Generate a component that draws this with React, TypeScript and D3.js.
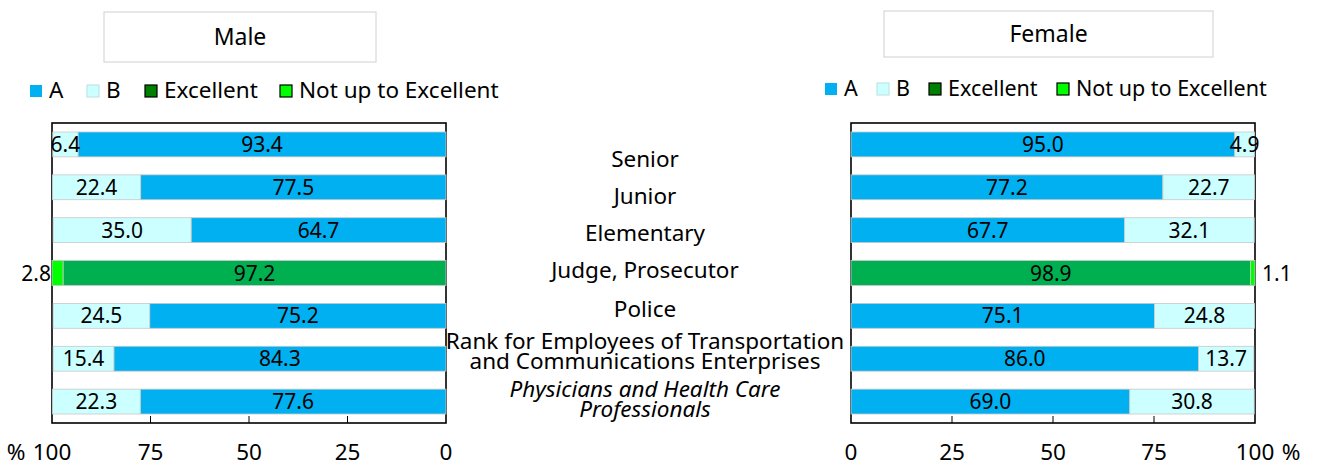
import React from 'react';
import * as d3 from 'd3';

const categories = [
  'Senior',
  'Junior',
  'Elementary',
  'Judge, Prosecutor',
  'Police',
  'Rank for Employees of Transportation|and Communications Enterprises',
  'Physicians and Health Care|Professionals',
];
const italicRows = [false, false, false, false, false, false, true];

// male values
const maleA = [93.4, 77.5, 64.7, 0, 75.2, 84.3, 77.6];
const maleB = [6.4, 22.4, 35.0, 0, 24.5, 15.4, 22.3];
const maleExcellent = [0, 0, 0, 97.2, 0, 0, 0];
const maleNotUp = [0, 0, 0, 2.8, 0, 0, 0];

// female values
const femaleA = [95.0, 77.2, 67.7, 0, 75.1, 86.0, 69.0];
const femaleB = [4.9, 22.7, 32.1, 0, 24.8, 13.7, 30.8];
const femaleExcellent = [0, 0, 0, 98.9, 0, 0, 0];
const femaleNotUp = [0, 0, 0, 1.1, 0, 0, 0];

const ticks = [0, 25, 50, 75, 100];
const keys = ['A', 'Excellent', 'B', 'NotUp'];
const legendLabels = ['A', 'B', 'Excellent', 'Not up to Excellent'];

const barColor: Record<string, string> = {
  A: '#00B0F0',
  B: '#CCFFFF',
  Excellent: '#00B050',
  NotUp: '#00FF00',
};
const legendColor = ['#00B0F0', '#CCFFFF', '#008000', '#00FF00'];
const legendStroke = ['none', '#bfe6e6', '#000', '#000'];

const FONT = '"Noto Sans", "Open Sans", sans-serif';

const W = 1319;
const H = 468;

const y = d3.scaleBand<string>()
  .domain(categories)
  .range([123, 423])
  .paddingInner(0.42)
  .paddingOuter(0.21);

// label centre shifts relative to band centre (layout only)
const labelShift = [15, 9, 3, -3, -6.5, -7.5, -2];

function buildRows(a: number[], b: number[], ex: number[], nu: number[]) {
  return categories.map((c, i) => ({ cat: c, A: a[i], B: b[i], Excellent: ex[i], NotUp: nu[i] }));
}

const Panel = ({ rows, x, left, right, title, titleBox, legendXs, legendY, legendSize, pctX }: any) => {
  const series = d3.stack<any>().keys(keys)(rows);
  const bottom = 423;
  return (
    <g>
      <rect x={titleBox[0]} y={titleBox[1]} width={titleBox[2]} height={titleBox[3]} fill="#fff" stroke="#d0d0d0" />
      <text x={titleBox[0] + titleBox[2] / 2} y={titleBox[1] + titleBox[3] / 2 + 8} textAnchor="middle" fontSize={23}>{title}</text>

      {legendLabels.map((l, i) => (
        <g key={l} transform={`translate(${legendXs[i]},${legendY})`}>
          <rect x={0} y={-12} width={12} height={12} fill={legendColor[i]} stroke={legendStroke[i]} strokeWidth={1.2} />
          <text x={19} y={1} fontSize={legendSize}>{l}</text>
        </g>
      ))}

      <rect x={left} y={123} width={right - left} height={bottom - 123} fill="#fff" stroke="#000" strokeWidth={1.6} />

      {series.map(s => s.filter(d => d[1] - d[0] > 0).map(d => {
        const x0 = x(d[0]);
        const x1 = x(d[1]);
        return (
          <rect key={s.key + d.data.cat} x={Math.min(x0, x1)} y={y(d.data.cat)} width={Math.abs(x1 - x0)}
            height={y.bandwidth()} fill={barColor[s.key]} stroke="#c8c8c8" strokeWidth={0.8} />
        );
      }))}

      {series.map(s => s.filter(d => d[1] - d[0] > 0).map(d => {
        const v = d[1] - d[0];
        const cy = (y(d.data.cat) as number) + y.bandwidth() / 2 + 7.5;
        if (s.key === 'NotUp') {
          const xe = x(d[1]);
          const outsideLeft = x(100) < x(0);
          return (
            <text key={'t' + s.key + d.data.cat} x={outsideLeft ? xe - 1 : xe + 7} y={cy}
              textAnchor={outsideLeft ? 'end' : 'start'} fontSize={21}>{v.toFixed(1)}</text>
          );
        }
        return (
          <text key={'t' + s.key + d.data.cat} x={(x(d[0]) + x(d[1])) / 2} y={cy} textAnchor="middle" fontSize={21}>
            {v.toFixed(1)}
          </text>
        );
      }))}

      {ticks.filter(t => t > 0 && t < 100).map(t => (
        <line key={t} x1={x(t)} x2={x(t)} y1={bottom} y2={bottom - 7} stroke="#000" strokeWidth={1} />
      ))}
      {ticks.map(t => (
        <text key={'l' + t} x={x(t)} y={460} textAnchor="middle" fontSize={22.5}>{t}</text>
      ))}
      <text x={pctX} y={460} textAnchor="middle" fontSize={22.5}>%</text>
    </g>
  );
};

export default function App() {
  const xMale = d3.scaleLinear().domain([0, 100]).range([446, 52]);
  const xFemale = d3.scaleLinear().domain([0, 100]).range([851, 1255]);
  const maleRows = buildRows(maleA, maleB, maleExcellent, maleNotUp);
  const femaleRows = buildRows(femaleA, femaleB, femaleExcellent, femaleNotUp);

  return (
    <svg width={W} height={H} style={{ position: 'absolute', left: 0, top: 0, background: '#fff' }}
      fontFamily={FONT} fill="#000">
      <Panel rows={maleRows} x={xMale} left={52} right={446} title="Male" titleBox={[104, 12, 272, 50]}
        legendXs={[30, 87, 145, 280]} legendY={97} legendSize={22.5} pctX={16} />
      <Panel rows={femaleRows} x={xFemale} left={851} right={1255} title="Female" titleBox={[884, 11, 329, 46]}
        legendXs={[825, 877, 929, 1057]} legendY={95} legendSize={21.5} pctX={1291} />

      {categories.map((c, i) => {
        const lines = c.split('|');
        const cy = (y(c) as number) + y.bandwidth() / 2 + labelShift[i];
        const lh = 20;
        const first = cy - ((lines.length - 1) * lh) / 2 + 7.5;
        return (
          <text key={c} x={645} y={first} textAnchor="middle" fontSize={22.5} fontStyle={italicRows[i] ? 'italic' : 'normal'}>
            {lines.map((l, j) => (
              <tspan key={j} x={645} dy={j === 0 ? 0 : lh}>{l}</tspan>
            ))}
          </text>
        );
      })}
    </svg>
  );
}
